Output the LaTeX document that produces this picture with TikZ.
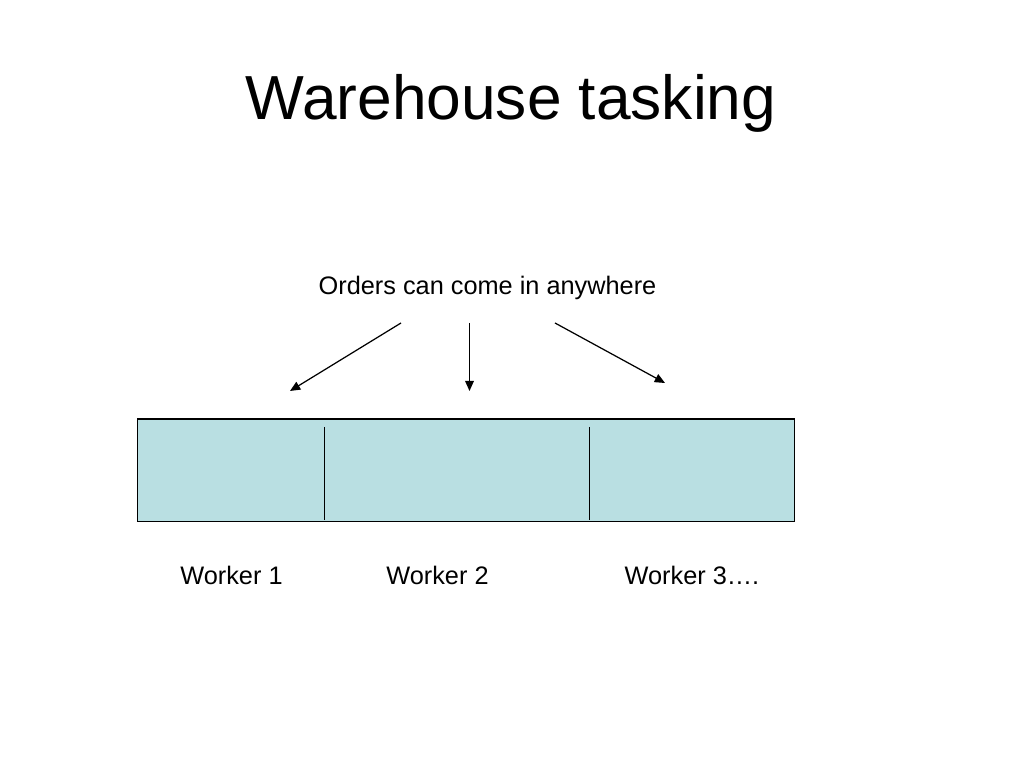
\documentclass[tikz,border=0pt]{standalone}
\usepackage{fontspec}
\setmainfont{Liberation Sans}
\usetikzlibrary{arrows.meta}
\definecolor{binfill}{RGB}{185,223,226}

\begin{document}
\begin{tikzpicture}[x=0.01cm,y=0.01cm]
\tikzset{label/.style={inner sep=0pt,anchor=base,font=\fontsize{7.2pt}{8.6pt}\selectfont},
  order/.style={draw=black,line width=0.35pt,-{Triangle[length=2.9pt,width=2.5pt]}}}
\useasboundingbox (0,0) rectangle (1024,-768);
\node [inner sep=0pt,anchor=base,font=\fontsize{17.7pt}{21pt}\selectfont] (title) at (511,-120) {Warehouse tasking};
\node [label] (orders) at (487.5,-295) {Orders can come in anywhere};
% the bin, split in three
\node [draw=black,fill=binfill,line width=0.3pt,minimum width=6.57cm,minimum height=1.02cm,inner sep=0pt,anchor=north west] (bin) at (136.5,-418.5) {};
\coordinate (d1top) at (324.5,-427);
\coordinate (d1bot) at (324.5,-520);
\coordinate (d2top) at (589.5,-427);
\coordinate (d2bot) at (589.5,-520);
\draw [black,line width=0.3pt] (d1top) -- (d1bot);
\draw [black,line width=0.3pt] (d2top) -- (d2bot);
% arrows
\coordinate (a1) at (401,-323);
\coordinate (b1) at (290,-391);
\coordinate (a2) at (469.5,-323);
\coordinate (b2) at (469.5,-391);
\coordinate (a3) at (555,-323);
\coordinate (b3) at (665,-383);
\draw [order] (a1) -- (b1);
\draw [order] (a2) -- (b2);
\draw [order] (a3) -- (b3);
\node [label] (w1) at (231.5,-585) {Worker 1};
\node [label] (w2) at (437.5,-585) {Worker 2};
\node [label] (w3) at (692,-585) {Worker 3….};
\end{tikzpicture}
\end{document}
